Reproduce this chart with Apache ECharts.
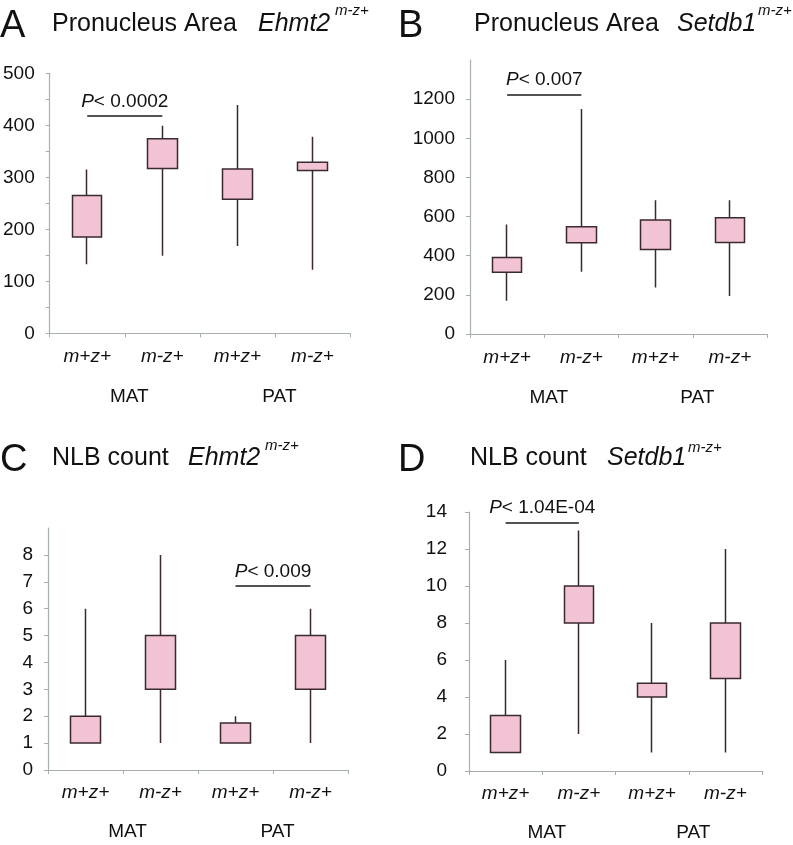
<!DOCTYPE html>
<html>
<head>
<meta charset="utf-8">
<script src="https://cdn.jsdelivr.net/npm/echarts@6/dist/echarts.min.js"></script>
<style>
html,body{margin:0;padding:0;background:#fff;}
#chart{width:793px;height:845px;}
</style>
</head>
<body>
<div id="chart"></div>
<script>
// Categories
const categories = ['m+z+', 'm-z+', 'm+z+', 'm-z+'];
const groups = ['MAT', 'PAT'];
// Box values per category: [Q1, Q3, min, max]
const areaEhmt2 = [[185, 265, 133, 315], [317, 374, 149, 399], [258, 316, 168, 439], [313, 329, 122, 378]];
const areaSetdb1 = [[315, 391, 170, 560], [466, 548, 318, 1149], [432, 582, 238, 684], [468, 594, 194, 684]];
const nlbEhmt2 = [[1, 2, 1, 6], [3, 5, 1, 8], [1, 1.75, 1, 2], [3, 5, 1, 6]];
const nlbSetdb1 = [[1, 3, 1, 6], [8, 10, 2, 13], [4, 4.75, 1, 8], [5, 8, 1, 12]];
// Significance annotations
const pTexts = ['0.0002', '0.007', '0.009', '1.04E-04'];
const sigLevels = [418, 1225, 6.84, 13.44];
const sigPairs = [[0, 1], [0, 1], [2, 3], [0, 1]];
// Axis settings
const yMax = [500, 1400, 9, 14];
const yInterval = [50, 200, 1, 2];
const panelLetters = ['A', 'B', 'C', 'D'];
const panelTitles = ['Pronucleus Area', 'Pronucleus Area', 'NLB count', 'NLB count'];
const genes = ['Ehmt2', 'Setdb1', 'Ehmt2', 'Setdb1'];
const superscript = 'm-z+';

const FONT = '"Liberation Sans", Arial, Helvetica, sans-serif';
const AXIS_COLOR = '#a6afae';
const TEXT_COLOR = '#111111';
const BOX_FILL = '#f2c3d5';
const BOX_EDGE = '#3a2a30';

const panelData = [areaEhmt2, areaSetdb1, nlbEhmt2, nlbSetdb1];

const grids = [
  { left: 49, right: 443, top: 73.3, bottom: 511.7 },
  { left: 470, right: 26, top: 60, bottom: 511 },
  { left: 48, right: 445, top: 528, bottom: 75 },
  { left: 469, right: 31, top: 512, bottom: 74 }
];
const yLabelMargin = [15, 15, 15, 22];
const catMargin = [14, 14, 13, 13];
const groupMargin = [54, 54, 52, 52];

const xAxes = [];
const yAxes = [];
const series = [];
for (let i = 0; i < 4; i++) {
  xAxes.push({
    type: 'category', gridIndex: i, data: categories, boundaryGap: true,
    axisLine: { show: true, lineStyle: { color: AXIS_COLOR, width: 1.2 } },
    axisTick: { show: true, length: 4, lineStyle: { color: AXIS_COLOR } },
    axisLabel: { fontFamily: FONT, fontSize: 19, fontStyle: 'italic', color: TEXT_COLOR, margin: catMargin[i] },
    splitLine: { show: false }
  });
  xAxes.push({
    type: 'category', gridIndex: i, data: groups, position: 'bottom', boundaryGap: true,
    axisLine: { show: false }, axisTick: { show: false },
    axisLabel: { fontFamily: FONT, fontSize: 19, color: TEXT_COLOR, margin: groupMargin[i], padding: [0, 0, 0, 9] },
    splitLine: { show: false }
  });
  const iv = yInterval[i];
  yAxes.push({
    type: 'value', gridIndex: i, min: 0, max: yMax[i], interval: iv,
    axisLine: { show: true, lineStyle: { color: AXIS_COLOR, width: 1.2 } },
    axisTick: { show: true, length: 4, lineStyle: { color: AXIS_COLOR } },
    splitLine: { show: false },
    axisLabel: {
      fontFamily: FONT, fontSize: 19, color: TEXT_COLOR, margin: yLabelMargin[i],
      showMaxLabel: (i === 0 || i === 3),
      formatter: function (v) { return (i === 0 && v % 100 !== 0) ? '' : String(v); }
    }
  });
  const pair = sigPairs[i];
  series.push({
    type: 'candlestick', xAxisIndex: i * 2, yAxisIndex: i,
    data: panelData[i], barWidth: 30,
    itemStyle: { color: BOX_FILL, color0: BOX_FILL, borderColor: BOX_EDGE, borderColor0: BOX_EDGE, borderWidth: 1.5 },
    markLine: {
      silent: true, symbol: ['none', 'none'],
      lineStyle: { color: '#1a1a1a', width: 1.5, type: 'solid' },
      label: {
        show: true, position: 'middle', distance: 5,
        formatter: '{p|P}< ' + pTexts[i],
        fontFamily: FONT, fontSize: 19, color: TEXT_COLOR,
        rich: { p: { fontFamily: FONT, fontSize: 19, fontStyle: 'italic', color: TEXT_COLOR } }
      },
      data: [[{ coord: [pair[0], sigLevels[i]] }, { coord: [pair[1], sigLevels[i]] }]]
    }
  });
}

const letterPos = [[0, 8], [398, 8], [0, 442], [398, 442]];
const titlePos = [[52, 12], [474, 12], [52, 446], [470, 446]];
const genePos = [[258, 12], [677, 12], [188, 446], [607, 446]];
const supPos = [[335, 3], [758, 3], [265, 438], [688, 440]];
const titles = [];
for (let i = 0; i < 4; i++) {
  titles.push({ text: panelLetters[i], left: letterPos[i][0], top: letterPos[i][1], padding: 0,
    textStyle: { fontFamily: FONT, fontSize: 38, fontWeight: 'normal', color: TEXT_COLOR } });
  titles.push({ text: panelTitles[i], left: titlePos[i][0], top: titlePos[i][1], padding: 0,
    textStyle: { fontFamily: FONT, fontSize: 25, fontWeight: 'normal', color: TEXT_COLOR } });
  titles.push({ text: genes[i], left: genePos[i][0], top: genePos[i][1], padding: 0,
    textStyle: { fontFamily: FONT, fontSize: 25, fontStyle: 'italic', fontWeight: 'normal', color: TEXT_COLOR } });
  titles.push({ text: superscript, left: supPos[i][0], top: supPos[i][1], padding: 0,
    textStyle: { fontFamily: FONT, fontSize: 15, fontStyle: 'italic', fontWeight: 'normal', color: TEXT_COLOR } });
}

const chart = echarts.init(document.getElementById('chart'), null, { renderer: 'canvas' });
chart.setOption({
  backgroundColor: '#ffffff',
  animation: false,
  title: titles,
  grid: grids,
  xAxis: xAxes,
  yAxis: yAxes,
  series: series
});
</script>
</body>
</html>
